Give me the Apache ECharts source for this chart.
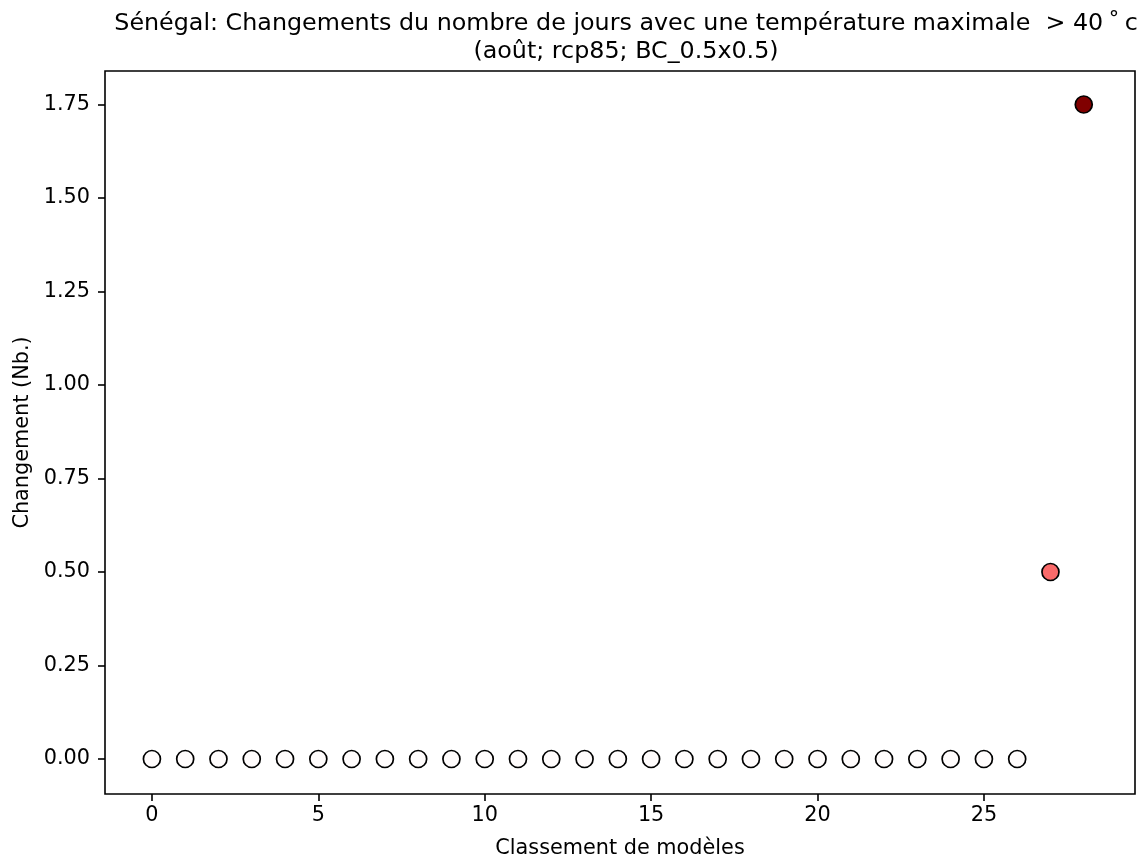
<!DOCTYPE html>
<html>
<head>
<meta charset="utf-8">
<script src="https://cdn.jsdelivr.net/npm/echarts@6/dist/echarts.min.js"></script>
<style>
html,body{margin:0;padding:0;background:#fff;}
#chart{width:1146px;height:861px;}
</style>
</head>
<body>
<div id="chart"></div>
<script>
const ranks = [0,1,2,3,4,5,6,7,8,9,10,11,12,13,14,15,16,17,18,19,20,21,22,23,24,25,26,27,28];
const changes = [0,0,0,0,0,0,0,0,0,0,0,0,0,0,0,0,0,0,0,0,0,0,0,0,0,0,0,0.5,1.75];
const xTicks = [0,5,10,15,20,25];
const yTicks = [0,0.25,0.5,0.75,1.0,1.25,1.5,1.75];

function colorFor(v){
  if (v >= 1.5) return '#800000';
  if (v >= 0.25) return '#fa6a6a';
  return '#fffcfc';
}

const chart = echarts.init(document.getElementById('chart'), null, {renderer:'canvas'});
const font = 'DejaVu Sans';
chart.setOption({
  backgroundColor:'#fff',
  animation:false,
  title:{
    text:'Sénégal: Changements du nombre de jours avec une température maximale  > 40\u2009˚\u2009c\n(août; rcp85; BC_0.5x0.5)',
    left:621, top:5, textAlign:'center',
    textStyle:{fontFamily:font,fontSize:23.8,fontWeight:'normal',color:'#000',lineHeight:28}
  },
  grid:{left:105,right:11,top:71,bottom:67,show:true,borderColor:'#000',borderWidth:1.6,
    backgroundColor:'transparent',containLabel:false,outerBoundsMode:'none'},
  xAxis:{
    type:'value', min:-1.41, max:29.54,
    name:'Classement de modèles', nameLocation:'middle', nameGap:44,
    nameTextStyle:{fontFamily:font,fontSize:20.8,color:'#000'},
    axisLine:{show:false,onZero:false},
    splitLine:{show:false},
    axisTick:{show:true,customValues:xTicks,length:7,lineStyle:{color:'#000',width:1.6}},
    axisLabel:{customValues:xTicks,fontFamily:font,fontSize:20.8,color:'#000',margin:11}
  },
  yAxis:{
    type:'value', min:-0.0936, max:1.8396,
    name:'Changement (Nb.)', nameLocation:'middle', nameGap:72, nameRotate:90,
    nameTextStyle:{fontFamily:font,fontSize:20.8,color:'#000'},
    axisLine:{show:false,onZero:false},
    splitLine:{show:false},
    axisTick:{show:true,customValues:yTicks,length:7,lineStyle:{color:'#000',width:1.6}},
    axisLabel:{customValues:yTicks,fontFamily:font,fontSize:20.8,color:'#000',margin:15,
      formatter:v=>v.toFixed(2)}
  },
  series:[{
    type:'scatter',
    data:ranks.map((r,i)=>[r,changes[i]]),
    symbol:'circle',
    symbolSize:17,
    itemStyle:{
      color:p=>colorFor(p.value[1]),
      borderColor:'#000',borderWidth:1.7,opacity:1
    }
  }]
});
</script>
</body>
</html>
